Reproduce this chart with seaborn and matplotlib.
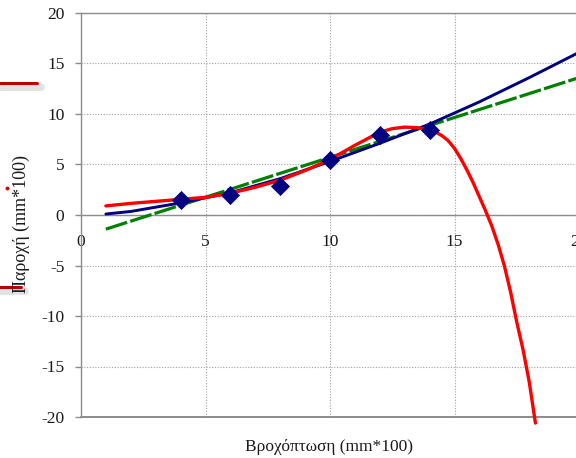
import matplotlib
matplotlib.use('Agg')
import matplotlib.pyplot as plt
from matplotlib.lines import Line2D
import seaborn as sns

# μετρήσεις (διαμάντια)
rain_obs = [4, 6, 8, 10, 12, 14]
flow_obs = [1.5, 2.0, 2.9, 5.4, 7.9, 8.4]

# πολυωνυμική καμπύλη (κόκκινη)
poly_x = [1, 2, 3, 4, 5, 6, 7, 8, 9, 10, 11, 12, 12.5, 13, 13.5, 14, 14.25,
          14.5, 14.75, 15, 15.25, 15.5, 15.75, 16, 16.25, 16.5, 16.75, 17,
          17.25, 17.5, 17.75, 18, 18.25]
poly_y = [0.9, 1.15, 1.35, 1.55, 1.75, 2.15, 2.75, 3.45, 4.4, 5.5, 6.9, 8.2,
          8.55, 8.7, 8.65, 8.45, 8.2, 7.85, 7.35, 6.6, 5.6, 4.45, 3.2, 1.8, 0.4,
          -1.1, -2.9, -5.0, -7.6, -10.6, -13.3, -16.5, -20.6]

# δυναμική καμπύλη (μπλε)
pow_x = [1, 2, 4, 6, 8, 10, 12, 14, 16, 18, 20]
pow_y = [0.1, 0.35, 1.2, 2.2, 3.6, 5.3, 7.1, 9.0, 11.2, 13.6, 16.1]

# γραμμική τάση (πράσινη)
lin_x = [1, 20]
lin_y = [-1.4, 13.6]

xticks = [0, 5, 10, 15, 20]
yticks = [-20, -15, -10, -5, 0, 5, 10, 15, 20]

sns.set_style('white')
plt.rcParams['font.family'] = ['Liberation Serif', 'DejaVu Serif']
plt.rcParams['axes.unicode_minus'] = False

fig = plt.figure(figsize=(5.76, 4.58), dpi=100)
ax = fig.add_axes([81 / 576, 1 - 417 / 458, 498 / 576, 404 / 458])

gray = '#8c8c8c'
ax.grid(True, linestyle=(0, (1, 1.5)), color='#a0a0a0', linewidth=0.8)
ax.set_axisbelow(True)

sns.lineplot(x=lin_x, y=lin_y, ax=ax, color='#008000', linewidth=2.3,
             zorder=3).lines[-1].set_dashes((7, 1))
sns.lineplot(x=pow_x, y=pow_y, ax=ax, color='#000080', linewidth=2.1,
             sort=False, estimator=None, zorder=4)
red = sns.lineplot(x=poly_x, y=poly_y, ax=ax, color='#ff0000', linewidth=2.4,
                   sort=False, estimator=None, zorder=5).lines[-1]
red.set_clip_on(False)
sns.scatterplot(x=rain_obs, y=flow_obs, ax=ax, marker='D', s=85,
                color='#000080', edgecolor='#000080', linewidth=0.5, zorder=6)

ax.set_xlim(0, 20)
ax.set_ylim(-20, 20)
ax.set_xticks(xticks)
ax.set_yticks(yticks)

for s in ['left', 'top', 'bottom']:
    ax.spines[s].set_color(gray)
    ax.spines[s].set_linewidth(1.0)
ax.spines['right'].set_visible(False)
ax.spines['bottom'].set_position(('data', 0))
ax.axhline(-20, color=gray, linewidth=1.4, clip_on=False, zorder=2)

ax.tick_params(axis='y', length=4, width=1, color=gray, pad=8, labelsize=12.5,
               labelcolor='#1a1a1a', left=True)
ax.tick_params(axis='x', length=0, pad=14, labelsize=12.5, labelcolor='#1a1a1a')

fig.text(329 / 576, 1 - 447 / 458, 'Βροχόπτωση (mm*100)', ha='center',
         va='center', fontsize=12.5, color='#1a1a1a')
fig.text(21 / 576, 1 - 224 / 458, 'Παροχή (mm*100)', ha='center', va='center',
         rotation=90, fontsize=13, color='#1a1a1a')

# κόκκινες γραμμές διαφάνειας αριστερά
for y0, x1 in [(83, 37), (287, 21)]:
    fig.add_artist(Line2D([0, (x1 + 4) / 576], [1 - (y0 + 4) / 458] * 2,
                          color='#d0d0d0', linewidth=5, alpha=0.6))
    fig.add_artist(Line2D([0, x1 / 576], [1 - y0 / 458] * 2,
                          color='#c00000', linewidth=2.2))
fig.add_artist(Line2D([7 / 576], [1 - 188 / 458], marker='o', markersize=1.8,
                      color='#e00000', linestyle='none'))

fig.savefig('out.png', dpi=100)
